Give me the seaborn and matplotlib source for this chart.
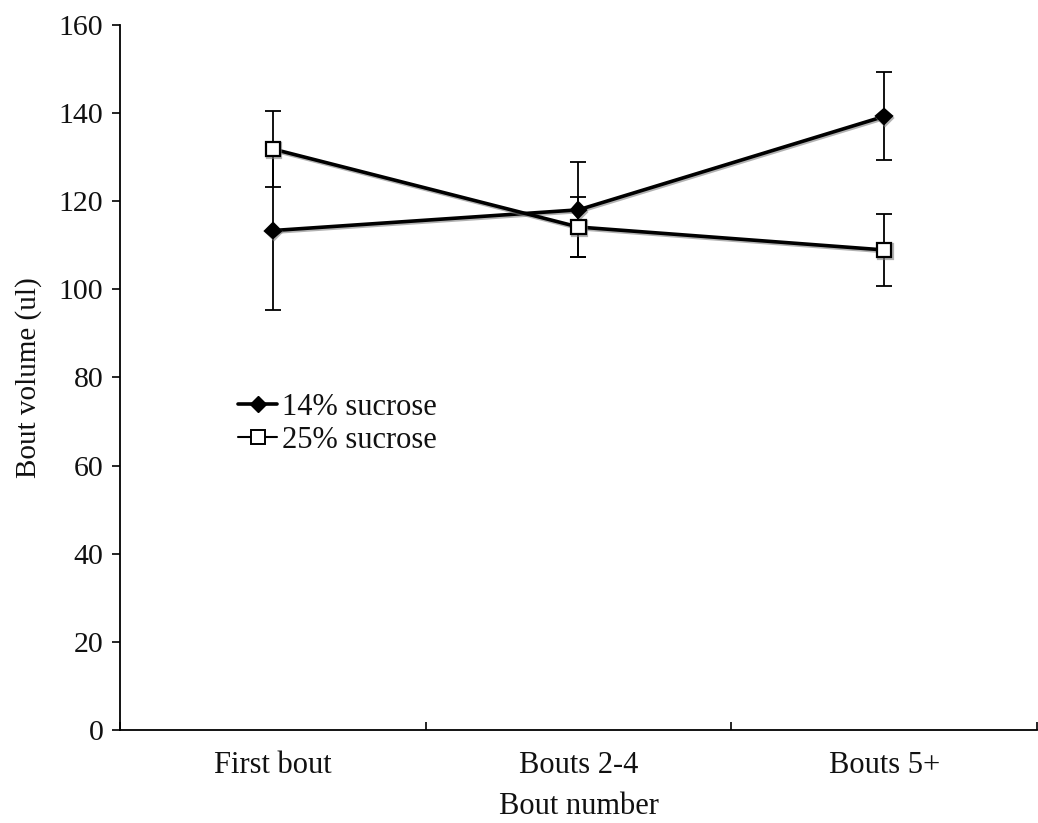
import matplotlib
matplotlib.use("Agg")
import matplotlib.pyplot as plt
import matplotlib.patheffects as pe
import seaborn as sns
import pandas as pd
import numpy as np
from matplotlib.lines import Line2D

categories = ["First bout", "Bouts 2-4", "Bouts 5+"]
series_names = ["14% sucrose", "25% sucrose"]
vol_14 = [113.3, 118.0, 139.2]
err_14 = [18.1, 10.8, 10.0]
vol_25 = [131.8, 114.1, 108.9]
err_25 = [8.6, 6.9, 8.1]
yticks = [0, 20, 40, 60, 80, 100, 120, 140, 160]

sns.set_theme(style="white")
plt.rcParams['font.family'] = ['Liberation Serif', 'DejaVu Serif']

df = pd.DataFrame({
    "pos": list(range(len(categories))) * 2,
    "volume": vol_14 + vol_25,
    "err": err_14 + err_25,
    "series": [series_names[0]] * 3 + [series_names[1]] * 3,
})

fig = plt.figure(figsize=(10.38, 8.23), dpi=100)
ax = fig.add_axes([0.1156, 0.113, 0.8834, 0.857])

shadow = [pe.SimpleLineShadow(offset=(0.8, -1.2), shadow_color="gray", alpha=0.6), pe.Normal()]

for name in series_names:
    sub = df[df.series == name]
    ax.errorbar(sub.pos, sub.volume, yerr=sub.err, fmt="none", ecolor="black",
                elinewidth=1.3, capsize=6, capthick=1.3, zorder=2)

sns.lineplot(data=df, x="pos", y="volume", hue="series", style="series",
             palette=["black", "black"], markers={"14% sucrose": "D", "25% sucrose": "s"},
             dashes=False, linewidth=2.6, ax=ax, legend=False, zorder=3,
             path_effects=shadow)

for line, (mk, fc, ms) in zip(ax.lines[-2:], [("D", "black", 8), ("s", "white", 10.5)]):
    line.set_marker(mk)
    line.set_markerfacecolor(fc)
    line.set_markeredgecolor("black")
    line.set_markeredgewidth(1.6)
    line.set_markersize(ms)

ax.set_xlim(-0.5, 2.5)
ax.set_ylim(0, 160)
ax.set_yticks(yticks)
ax.set_xticks([0, 1, 2])
ax.set_xticklabels(categories)
ax.set_xticks([-0.5, 0.5, 1.5, 2.5], minor=True)
ax.tick_params(axis="x", which="major", length=0, pad=15, labelsize=22, bottom=True)
ax.tick_params(axis="x", which="minor", length=6, width=1.2, direction="in", color="black",
               bottom=True)
ax.tick_params(axis="y", which="major", length=6, width=1.2, direction="out", color="black",
               labelsize=21.5, pad=6, left=True, labelcolor="#111111")
ax.tick_params(axis="x", labelcolor="#111111")
ax.set_xlabel("Bout number", fontsize=22, labelpad=9, color="#111111")
ax.set_ylabel("Bout volume (ul)", fontsize=21, labelpad=12, color="#111111")

for s in ["top", "right"]:
    ax.spines[s].set_visible(False)
for s in ["left", "bottom"]:
    ax.spines[s].set_color("black")
    ax.spines[s].set_linewidth(1.3)

handles = [
    Line2D([], [], color="black", lw=2.6, marker="D", markersize=8, markerfacecolor="black"),
    Line2D([], [], color="black", lw=1.5, marker="s", markersize=10, markerfacecolor="white",
           markeredgewidth=1.4),
]
ax.legend(handles, series_names, loc="upper left", bbox_to_anchor=(0.115, 0.495),
          frameon=False, fontsize=22, handlelength=1.3, handletextpad=0.15,
          labelspacing=0.12, borderaxespad=0, labelcolor="#111111")

fig.savefig("out.png", dpi=100)
